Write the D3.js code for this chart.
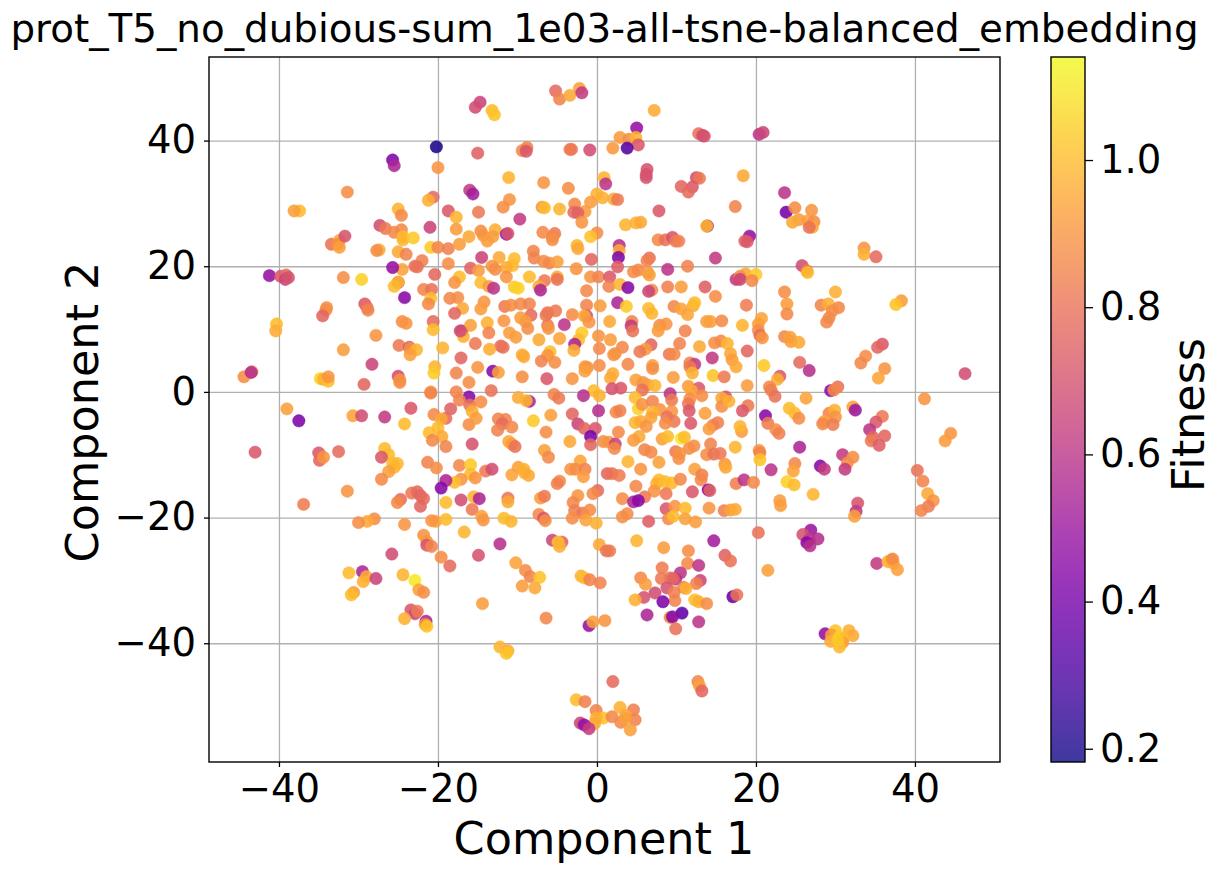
<!DOCTYPE html>
<html>

<head>
  <meta charset="UTF-8">
  <title>t-SNE embedding</title>
  <script src="https://d3js.org/d3.v7.min.js"></script>
  <style>
    body {
      margin: 0;
      background: #fff;
    }

    text {
      font-family: "DejaVu Sans", sans-serif;
      fill: #000;
    }

    .axis path {
      display: none;
    }

    .axis line {
      stroke: #000;
      stroke-width: 1.3;
    }

    .axis text {
      font-size: 38.6px;
    }

    .grid path {
      display: none;
    }

    .grid line {
      stroke: #b0b0b0;
      stroke-width: 1.3;
    }
  </style>
</head>

<body>
  <div id="chart"></div>
  <script>
    // values, one group per part of the plot (upper left first)
    var c1_a = [-37.4, -38.1, -31.4, -20.2, -25.7, -25.5, -20, -16, -15.6, -20.6,
      -21.2, -18.7, -17.7, -25, -24.6, -27.3, -26.6, -25.5, -24.6, -24.4,
      -24.4, -23.1, -21, -17.7, -16.1, -20.9, -20, -18.7, -17.3, -33.4,
      -32.4, -32.6, -32.4, -31.7, -27.4, -27.7, -25, -24, -22, -22.9,
      -22.6, -24.5, -25.7, -18.7, -15.9, -20.4, -17.3, -17.9, -41.2, -39.8,
      -39.1, -39.2, -38.8, -31.9, -29.6, -25, -25.5, -25, -21.8, -20.8];
    var c2_a = [28.8, 28.8, 31.8, 39, 36.9, 36, 35.7, 32.1, 31.5, 31,
      30.5, 28.8, 27.8, 29.1, 28.1, 26.5, 26, 25.4, 25.8, 24.7,
      24.2, 24.5, 26.2, 25.9, 24.7, 23, 23, 22.8, 23.5, 23.5,
      24.1, 23.5, 23, 24.8, 22.6, 22.5, 22.3, 21.9, 20.9, 20,
      19.9, 19.5, 19.8, 20.4, 19.7, 18.7, 18.3, 17.4, 18.5, 18.4,
      18.6, 17.9, 18.2, 18.2, 17.9, 17.4, 16.8, 17.5, 16.3, 16.3];
    var fit_a = [1, .93, .88, .2, .42, .55, .9, .62, .52, .78,
      .97, .72, .98, .98, .87, .68, .82, .86, .87, 1,
      .98, 1.03, .65, .92, .95, 1.03, .86, .84, .92, .8,
      .95, .88, .93, .7, .97, .88, .95, .85, .84, .8,
      .8, .94, .48, .88, .75, .77, 1, .9, .48, .72,
      .78, .65, .7, .88, 1.05, .7, 1, .98, .85, .8];

    var c1_b = [-14.7, -15.3, -13.2, -12.9, -5.2, -4.7, -3.4, -2.2, -1.9, 7.2,
      5, 2.9, 4, 4.9, 5.2, 3.8, 2, 12.8, 13.3, 13.5,
      -15, -9.4, -8.8, -8.9, -3.4, -3.2, -.9, -11.1, -6.7, -3.6,
      .9, 1.1, 6.3, 6.2, 6.2, 12.5, 12.9, 10.6, 12, 11.5,
      -11, -11.8, -6.9, -6.6, -4.7, -9.7, -14.9, 0, .7, 2.1,
      2.6, -.8, -2.8, -1.5, -2.9, -2.4, -1.9, 7.8, 17.4, 3.6,
      4.9, 5.5, 13.9, 13.8, -14.6, -12.8, -14.3, -13.1, -13.8, -11.4,
      -11.2, -6.8, -5.3, -5.6, -5.6, 0, -.8, -2.5, -2.4, -8,
      -7.9, -12.3, -14.5, -10.4, -10.6, -11.4, -13.2, -12.8, -11.4, -14.9,
      -6.7, -6, -5, -.7, -2.6, 2.8, 2.8, 2.7, 2.6, 7.7,
      8.6, 9.5, 9.9, 10.3, 6.6, 6.3, 14.9, 11.4, 8.9, 4.6,
      5.2, 6.4, 6.6, -.8, .2, 1.6, -8.5, -5, -5, -6.6,
      -7.3, -7.1, -14.6, -13.6, -13, -10.4, -9.9, -1.3, 1.5, 2.9,
      3.9, 6.9, 8.9, 10.6, 13.6, 17.5, 6.5];
    var c2_b = [46.1, 45.3, 44.8, 44.1, 47.9, 46.6, 47.2, 48.3, 47.6, 44.8,
      42, 40.5, 40.2, 40.5, 39.3, 38.8, 38.8, 41.1, 40.8, 40.7,
      38, 38.4, 38.9, 38.3, 38.6, 38.6, 38.5, 34.1, 33.3, 32.4,
      34.1, 33.1, 35.4, 34.6, 34.1, 34.1, 34, 32.7, 32.6, 31.8,
      30.6, 29.4, 29.4, 29.3, 29.1, 27.5, 28.6, 31.5, 30.9, 30.7,
      30.6, 30.2, 29.9, 28.7, 28.6, 28.5, 27, 28.8, 29.5, 26.6,
      26.9, 27, 26.4, 26.4, 25.6, 25.8, 24.9, 24.7, 24, 25.1,
      25.2, 25.4, 25.2, 24.7, 24.2, 25.3, 24.7, 23.3, 22.8, 22.4,
      21.3, 21.4, 21.4, 21.2, 20.1, 19.8, 20, 19.5, 18.3, 19.3,
      20.8, 20.5, 20.7, 21.1, 19.6, 23.3, 22.5, 21.4, 19.9, 24.2,
      24.2, 24.6, 24, 24, 21.3, 20.9, 21.3, 20, 19.5, 19.1,
      19.4, 19, 18.6, 18.3, 18.3, 18.3, 18.3, 18.3, 17.9, 17.7,
      16.8, 16.2, 17.4, 16.8, 16.5, 16.7, 16.5, 16.1, 16.8, 17.1,
      16.6, 16.2, 16.7, 16.7, 16.7, 17.9, 16];
    var fit_b = [.65, .68, 1, 1.02, .78, .85, .95, .93, .62, .96,
      .48, .92, .88, .98, .72, .32, .91, .8, .68, .7,
      .75, .86, .85, .72, .84, .82, .68, .98, .9, .88,
      .98, .6, .7, .7, .7, .68, .82, .76, .72, .78,
      .9, .88, .9, 1, .98, .62, .82, .97, .97, .95,
      .82, .92, .87, .92, .78, .75, .9, .72, .85, .98,
      .97, .95, .55, .98, .88, .97, .9, .92, .92, .5,
      .7, .87, .82, .86, .88, .88, 1.02, .98, .95, .85,
      .85, .95, .65, 1, 1, .96, .9, .88, .9, .92,
      .88, .86, .93, .76, .9, .58, .96, .42, .74, .87,
      .8, .7, .82, .84, .8, .84, .62, .85, .6, .88,
      .87, .92, .93, .9, .85, .72, 1, .96, .8, .82,
      .95, .55, 1, .92, .6, 1.03, 1.05, .87, .85, .98,
      .45, .87, .84, .92, .74, .62, .65];

    var c1_c = [20.4, 20.9, 18.4, 23.6, 23.8, 24.9, 27, 25.4, 24.6, 26.5,
      27.3, 27.1, 26.7, 19.2, 18.6, 18.9, 33.6, 33.6, 35.1, 25.8,
      26.4, 26.5, 18.7, 20, 18, 18, 19.5, 23.6, 30];
    var c2_c = [41, 41.3, 34.4, 31.7, 28.6, 29.3, 28.9, 27.4, 27, 27.2,
      27.1, 26.2, 26.2, 24.8, 24, 23.9, 22.9, 21.9, 21.5, 20.1,
      19.3, 19, 18.8, 18.7, 18.4, 17.9, 17.7, 15.9, 15.9];
    var fit_c = [.6, .65, .95, .6, .4, .88, .9, .92, .95, .93,
      .88, .95, .8, .48, .75, .72, .9, .97, .78, .68,
      .82, 1, .95, 1.03, .88, .65, .87, .88, .97];

    var c1_d = [-40.3, -40.4, -34, -34.1, -34.5, -29.2, -28.9, -28.8, -24.2, -20.9,
      -21.2, -18.5, -17.5, -16.9, -17.9, -24.5, -24, -20.6, -20.6, -27.8,
      -31.9, -24.9, -23.6, -23.5, -22.7, -23.5, -19.4, -17.1, -17, -16.8,
      -15.9, -17.2, -28.3, -25, -24.8, -24.8, -20.4, -20.5, -17.7, -16.1,
      -44.4, -43.4, -43.5, -34.8, -34.4, -33.8, -33.8, -29.3, -20.9, -20.9,
      -17.7, -16.1, -17.3, -16, -39, -37.5, -30.7, -29.6, -26.7, -23.4,
      -24.2, -20.5, -18.4, -19, -19.6, -20, -21.1, -19.5, -20.7, -19,
      -16.1, -15.7, -15.7, -43, -35, -34.9, -34.4, -32.5, -26.7, -26.2,
      -27.1, -25.7, -25.1, -25.5, -26.2, -27.1, -21.3, -20.2, -17.3, -15.9,
      -15.9, -17.1, -17.9, -19, -19.6, -31.4, -36.9, -23.3, -22.6, -22.2,
      -21.8, -24.7, -25.1, -22.2, -19, -17.1, -15.7, -15.5, -28, -28.9,
      -30, -24.2, -20.3, -20.8, -19];
    var c2_d = [10.8, 9.7, 13.4, 13, 12.1, 14, 13.4, 13, 15, 14.9,
      14, 14.9, 15, 13.3, 12.5, 11.2, 10.9, 11.2, 9.9, 9,
      6.7, 7.4, 7.1, 6.9, 6.7, 5.9, 7, 5.4, 9.7, 8.8,
      10.6, 9.7, 4.4, 2.5, 1.9, 1.5, 4, 3, 3, 1.5,
      2.4, 3.2, 3.1, 2.1, 2, 1.7, 2.4, 1.2, 0, -.2,
      0, -.8, -1.3, -2.1, -2.7, -4.6, -3.8, -3.8, -4, -2.6,
      -5.1, -3.6, -2.7, -4.2, -4.3, -5.7, -6.5, -7.1, -7.7, -8.7,
      -5.2, -3.1, -8.3, -9.6, -9.7, -10.9, -10.4, -9.5, -9, -10,
      -10.4, -11.3, -11.4, -12, -12.7, -13.9, -11.2, -12.1, -11.7, -11.6,
      -13.1, -13.9, -14.4, -14.1, -15.3, -15.8, -17.9, -16.1, -15.9, -16.5,
      -17, -17.1, -17.6, -18.2, -17.6, -17.2, -18.7, -16.7, -20.2, -20.6,
      -20.8, -21.1, -20.6, -20.5, -20.3];
    var fit_d = [1, .96, .88, .88, .76, .72, .8, .85, .45, 1,
      .87, .86, .88, .95, .76, .88, .9, .78, 1, .9,
      .92, .82, .72, .88, .98, .93, .98, .76, .6, .97,
      .93, .68, .65, .68, .9, .88, .98, 1.03, .85, .88,
      .88, .85, .58, 1.05, .97, 1, .9, .76, .92, .85,
      .85, .45, .85, .8, .93, .42, .94, .68, .62, .72,
      1, .87, .75, .78, .95, 1, 1, .95, .87, .85,
      .88, .97, .7, .72, .72, .76, .9, .78, 1, 1,
      .72, 1, .99, .98, .93, .87, .85, .88, .86, 1.03,
      1, .9, 1, .55, .45, .9, .83, .82, .78, .76,
      .78, .78, .87, .76, 1, .68, .82, .98, .88, .95,
      .88, .9, .93, .9, 1];

    var c1_e = [-14.2, -14.6, -11.6, -10.8, -9.6, -8.5, -8.3, -9.6, -9, -8.7,
      -11.7, -13.8, -13.6, -11, -10.2, -15.3, -12.1, -11.8, -13.5, -7.3,
      -6.2, -5.2, -6.4, -6.2, -6.1, -4.1, -4.7, -3.1, -1.3, .4,
      -1.3, -1.6, -1, 1.6, 2.6, 3.7, 6.5, 6.9, 9.7, 10.6,
      11.4, 12.1, 12.3, 14.9, 13.8, 14.3, 15.7, 4.4, 4.3, 4.5,
      7.9, 8.7, 7.7, 11.1, -1.9, -2.3, -2.8, -2.9, .2, 1.7,
      .3, 3.2, 6.8, 6.1, 5.4, 2.3, 2.1, 9.1, 9.7, 10.4,
      12.9, 14.8, 15.6, 16.4, 16.8, 17, 17.5, 14.5, -5.9, -6.2,
      -7, -5.3, -9.4, -9.2, -15, -13.1, -12.4, -9.4, -6.3, -3.1,
      -1.5, -1.2, -1.5, .3, 3.9, 2, 1.7, 7, 7, 11.7,
      12.3, 11.7, 12, 14.6, 16, 9.6, 4.9, 5.8, 6.4, 7.3,
      1.9, 3, 5.7, 11.5, 12.8, 11.9, -13.3, 9.2, 13.2, -.4,
      .3, -1.7, -5.4, -4.8, -9.9, -8.5, -8.9, -14.6, 4.8, 5.2,
      5.7, 7, 9.4, 11.7, 11.5, 11.6, 16.2, 15.7, 15.7, 16.6,
      13.6, 7.9, 7, 6.8, 9.4, 8.8, 9.7, 8.6, 11.8, 4.8,
      5.5, 6.2, 14.6, 15.2, 14.1, .2, -3.1, 2.4, 2.9, -5.8,
      -8, -12.4, -11.5, -11.9, -12.5, -10.7, -15.2, -6.4, -2.4, -1.6,
      -.2, -.8, -.8, 2.7, -3.4, .8, 1.5, 2.3, 2.2, 5.3,
      4.6, 8.2, 8.9, 10.6, 11, -11.1, -10.7, -10.3, 14.3, 17.4,
      6, 6.8, 9.9, 10.4, 10.3, 11.6, 12.2, 13.8, 14.7, 15.5,
      -6.6, -6.1, -14, -13.2, -15.3, -9.9, -9.2, -9.1, -8.6, -10.7,
      -2.1, -3.3, -2.7, -1.5, -1.7, 3.9, 5.5, 7.8, 1.3, 1.9,
      2.8, 12.3, 13.2, 13.1, 16.1, 16.2, -4.7, -5, 7.8, 7.5,
      8.6, 9.4, 10.5, 7.2, 8.7, 4.9, 14, 14.2, 12, 17.5,
      .1, -.5, -2.4, -14.8, -11.2, -11.2, -7.1, -6.6, -3, 3.2,
      6, 4.6, 5.2, 8.7, 9.8, 11.1, 14.1, 16, 16.8, 17.4,
      -2.8, -1.8, -.9, -3.1, -1.4, -.1, -7.3, -6.7, -6.5, -14.5,
      -14.3, -11.7, -10.8, 3.8, 3.2, 6.5, 9, 9.6, 11.1, 12.4];
    var c2_e = [14.3, 13.2, 13.6, 13.8, 14, 14, 12.2, 11.8, 11.2, 10.1,
      11.3, 11, 9.4, 9.4, 8.7, 7.7, 7.3, 7.1, 6.8, 8.3,
      12.6, 12.9, 12.2, 10.6, 10.1, 10.7, 8.5, 12.3, 13.8, 13.7,
      12.1, 12.1, 11.1, 11.2, 14.2, 13.6, 13.3, 12.5, 13.6, 13.2,
      12.3, 13.7, 14.2, 15.2, 11.2, 11.2, 11.3, 11.2, 10.5, 9.7,
      10.6, 10.8, 9.7, 9.7, 9.4, 8.3, 7.6, 6.6, 8.9, 8.3,
      6.9, 7.1, 7.5, 6.8, 6.4, 6.1, 5.9, 6, 6, 7.7,
      7.2, 7.8, 8.1, 7.7, 6.1, 5.1, 4, 5.4, 6.4, 5.8,
      4.9, 4.7, 5.9, 5.6, 3.9, 3.3, 3.1, 2.4, 2.1, 2.1,
      4, 3.9, 3.3, 4.2, 4.4, 2.9, 2.2, 4.2, 3.7, 4.6,
      4.4, 4, 3, 2.6, 2.4, 2.3, 1.9, 1.5, 1.1, 1,
      .5, .6, .3, .9, .6, .2, .2, -.3, -.6, .2,
      -.6, -.6, -.4, -1, -.9, -1.5, -1.4, -1.6, -.9, -2.7,
      -2, -1.5, -1.3, -1.1, -1.9, -3, -.8, -1, -2.3, -1.5,
      -3.4, -2.8, -3.2, -4.1, -3.1, -4, -4.7, -5, -5, -4.9,
      -4.7, -5.5, -5.3, -4.9, -5.9, -3, -3.5, -3.2, -3, -3.7,
      -4.6, -4.3, -4.4, -5.1, -6.1, -5.6, -4.2, -6.4, -5.1, -5.8,
      -5.8, -7.1, -8.4, -6.4, -7.9, -7.9, -8, -8.3, -9, -7.1,
      -7.7, -7.5, -7.1, -7.4, -7.2, -7.9, -8.3, -8.7, -8.3, -8.8,
      -9.2, -9.6, -9.5, -9.8, -10.6, -9, -8.6, -10, -9.9, -9.8,
      -9.3, -10.4, -12.6, -12.3, -13.7, -12, -12.3, -12.9, -13.3, -13.2,
      -11, -12.3, -12.3, -12.3, -13.5, -11.1, -12.3, -11.2, -13, -13,
      -13.3, -12.3, -13.2, -14, -11.5, -12, -14.2, -14.6, -14, -14.6,
      -14.3, -14.5, -13.9, -15.8, -16.2, -15, -15.6, -15.7, -15.9, -14.6,
      -15.7, -16.2, -16.5, -17, -16.9, -17.5, -16.9, -16.6, -17.6, -17,
      -16.7, -17.5, -17.3, -18.6, -18.2, -18.5, -18.5, -18.9, -18.8, -18.7,
      -18.9, -19.3, -18.8, -20.1, -20.4, -20.9, -19.5, -20.1, -20.5, -19.8,
      -20.4, -20.1, -20.6, -19.4, -19.9, -20.6, -20.2, -19.8, -20.2, -20.7];
    var fit_e = [.9, .92, .82, .88, .87, .85, .78, .92, .92, .88,
      .9, .97, .85, .92, .92, .82, .78, .8, .96, .95,
      .8, .82, .82, .82, .9, .6, .94, .88, .85, .92,
      .68, .95, .9, .95, .55, 1.03, 1, .98, .86, .94,
      .94, .95, 1, .88, .92, .93, .87, .85, .62, .8,
      .88, .9, .92, .85, 1.03, 1, .55, .96, .9, .92,
      .87, .87, .76, .92, .82, .88, .9, .82, .87, .85,
      .95, .88, .87, .98, .95, .92, .95, .62, 1, .9,
      .85, .88, .96, .95, .9, .45, .93, .88, .72, .9,
      .9, .9, .93, .88, .86, .96, .95, .92, .88, .85,
      .62, .82, .97, 1.02, .82, .92, .93, .9, .92, .98,
      .7, .72, .8, .92, .72, .95, .8, .6, .88, 1,
      .97, .58, .85, .82, .95, .55, .98, .88, 1, 1.05,
      .9, .85, .82, .88, .82, .72, .7, .95, .88, .97,
      .93, .9, .98, .94, .9, .8, .82, .88, .72, .98,
      .95, .9, .85, .84, .92, .58, .76, .87, .84, .93,
      1.03, .85, .85, .78, .85, .87, .92, .88, .65, .76,
      .72, .4, .76, .87, .95, .88, .9, .65, .87, .95,
      .92, .93, 1, 1.1, 1, .95, .92, .8, .85, .98,
      .85, .87, .82, .9, .88, .88, .88, .88, .8, .82,
      .93, .87, .82, .68, .9, .93, .97, .97, .95, .94,
      .94, .9, .88, .85, .92, .98, .9, .93, .76, .8,
      .83, .93, .84, .86, .9, .95, .87, .84, 1, .97,
      1, 1, .87, .9, .82, .86, .42, .75, .72, .84,
      .78, .87, .9, .55, .8, .95, .92, .82, .86, .88,
      .82, .55, .45, .72, .9, 1, .9, .84, .94, .95,
      .84, .82, .88, .88, .94, .97, .87, .7, .88, .93,
      .9, 1, .98, .88, .88, .74, .87, 1, .93, .92];

    var c1_f = [18.8, 23.9, 23.9, 20.7, 18.3, 20.3, 20.3, 20.5, 20.8, 23.6,
      24.3, 24.4, 25.4, 28.2, 29.1, 30.4, 29.6, 29.2, 28.9, 38.3,
      37.6, 35.9, 35.3, 33.8, 33.2, 36.2, 35.4, 18.9, 25.5, 26.7,
      21, 23, 22.7, 18.9, 21.7, 21.9, 22.4, 46.3, 29.4, 30.3,
      29.8, 26.3, 41.2, 19, 18.3, 21.2, 21.5, 24.2, 24.9, 25.4,
      22.5, 22.9, 18.2, 18, 29.2, 29.9, 30, 28.6, 28.4, 29.7,
      32.2, 32.5, 35.9, 35.1, 34.3, 36.2, 34.7, 34.5, 35.5, 44.5,
      43.8, 25.5, 20.4, 20.5, 20.5, 24.9, 24.7, 21.9, 28.1, 28.6,
      30.9, 32.2, 31.5, 31.2, 40.3, 41, 41.6, 42.3, 41.7, 40.8,
      23.9, 24.8, 27.2, 18.5, 19.7, 23, 23.1, 32.8, 32.6, 32.4];
    var c2_f = [13.8, 14, 12.4, 11.7, 10.6, 10.8, 9.8, 9, 8.6, 8.8,
      8.7, 8, 7.9, 13.8, 14, 13.4, 12.9, 11.8, 11.1, 14.5,
      13.9, 7.6, 7.1, 5.7, 4.6, 3.7, 2.2, 6.5, 4.7, 3.4,
      4.2, 2.5, 2, 1, .8, .3, -.7, 2.9, .2, .8,
      .3, -1, -1.1, -2.2, -3, -3.8, -5, -2.6, -3.4, -4.2,
      -6, -6.6, -6.3, -5.5, -3.4, -2.9, -4, -4.7, -5.1, -5.2,
      -2.4, -2.9, -3.9, -4.8, -6, -7, -7.2, -7.8, -8.5, -6.6,
      -7.8, -8.8, -9.3, -9.7, -10.8, -11.4, -12.6, -12.4, -11.8, -12.3,
      -10, -10.4, -11.3, -12.3, -12.5, -14.2, -16.2, -17.3, -18.2, -18.9,
      -14.3, -14.8, -16.3, -14, -14.4, -17.3, -18.1, -17.7, -19, -19.8];
    var fit_f = [.83, .92, .87, .94, .98, .93, .88, .78, .9, .86,
      .93, .92, .95, .85, .97, .86, .88, .87, .86, .92,
      1.02, .72, .76, .88, .86, .9, .94, .76, .78, .58,
      1.03, .72, .97, .92, .86, .84, .8, .68, .45, .8,
      .86, .94, .9, .82, .72, .45, .83, 1, 1, .88,
      .88, .84, .92, .98, .85, .97, .9, .94, .86, .83,
      .93, .5, .82, .72, .6, .76, .76, .82, .74, .9,
      .92, .55, .9, .85, 1.02, .86, .94, .6, .45, .62,
      .62, .88, .88, .62, .8, .85, .95, .9, .83, .85,
      1.05, 1, .98, .6, .87, .92, .92, .7, .62, .93];

    var c1_g = [-21.8, -21.4, -21.4, -20.8, -25.8, -19.6, -18.5, -16.7, -31.2, -29.5,
      -29, -29.4, -27.8, -24.4, -22.9, -22.4, -21.8, -30.6, -30.9, -23.4,
      -22.9, -22.6, -24.2, -21.5, -21.6, -21.4];
    var c2_g = [-22.8, -23.8, -24.4, -24.6, -25.8, -26.3, -27.7, -22.3, -28.8, -28.6,
      -29.4, -30.2, -29.7, -29.1, -30, -31.5, -31.9, -31.9, -32.3, -34.7,
      -35.3, -34.9, -36.1, -36.5, -37, -37.3];
    var fit_g = [.9, .9, .7, .85, .68, .88, .78, .98, 1, .55,
      .95, .97, .65, .98, 1.1, .93, .88, .92, 1, .72,
      .65, .82, .97, .55, .9, 1.02];

    var c1_h = [-12.2, -14.9, -5.6, -4.4, -4.9, -4.7, .3, 1.2, 1.6, 5,
      8.4, 11.5, 14.7, 16.1, 16.8, 11.4, 12.8, 8.2, -10.2, -9,
      -8.4, -7.2, -9.4, -7.8, -2, -1.6, -.9, .4, 10.5, 9.9,
      9.2, 8.1, 9.6, 8.8, 13, 12.5, 10.9, 11.2, 5.5, 6.1,
      7.3, 5.9, 4.8, 9.7, 9.8, 8.3, 12.3, 12.8, 13.8, 17.1,
      17.6, -14.4, -6.4, -1, -.5, 1, 6.3, 10.7, 9.2, 9.5,
      12.8, 9.9, -12.2, -11.2, -11.4, 2, 12.7, 12.9, 13.2, -2.6,
      -1.5, -.1, 2.9, 4.6, 3.6, .8, -.1, 1.9, 4.8, 3,
      3.6, -.3, -2.1, -1.6, -1, 4.2];
    var c2_h = [-24.2, -26, -23.6, -23.9, -23.9, -24.6, -24.3, -25.3, -25.3, -23.7,
      -24.8, -25.3, -23.7, -26, -26.9, -27.3, -27.6, -28, -27.2, -28.4,
      -29.4, -29.5, -30.9, -31.2, -29.3, -29.6, -29.9, -30.4, -28.8, -29.8,
      -29.6, -29.7, -29.7, -31.2, -30, -30.5, -31.1, -31.3, -29.6, -30.6,
      -32, -32.7, -33.1, -31.9, -33.2, -33.4, -33.1, -33.4, -33.7, -32.6,
      -32.3, -33.7, -36, -37.2, -36.6, -36.4, -35.5, -35.2, -35.9, -35.8,
      -36.6, -37.7, -40.6, -41.2, -41.6, -46.1, -46.1, -46.8, -47.6, -49,
      -49.3, -50.7, -50.2, -50.6, -51.5, -51.9, -51.9, -51.7, -52.2, -52.6,
      -52, -52.8, -52.7, -53, -53.6, -53.8];
    var fit_h = [.58, .7, .66, .75, 1.02, .97, .95, .8, .82, .98,
      .92, .88, .52, .75, .8, .87, .6, .83, .94, .88,
      .85, 1.02, .92, .95, .97, 1, .85, .85, .6, .58,
      .8, .82, .76, .7, .66, .84, .85, .97, .87, .92,
      .68, .7, .97, .84, .85, .42, 1, .97, .88, .38,
      .8, .92, .86, .48, .93, .9, .55, .35, .87, .45,
      .6, .8, .98, .96, 1.02, .78, .86, .93, .76, 1,
      .84, .85, .97, .84, .95, 1.02, .97, .86, .85, .87,
      .93, .95, .65, .48, .62, .93];

    var c1_i = [20.3, 26.9, 25.9, 26.7, 27.8, 26.4, 26.8, 21.5, 35.2, 36.6,
      37, 37.3, 37.2, 37.8, 28.7, 31.7, 30, 32.2, 29.5, 29.4,
      30.5, 31, 30.9, 30.5, 30.3];
    var c2_i = [-22.4, -22, -22.7, -23.5, -23.4, -24, -24.5, -28.4, -27.3, -27,
      -26.8, -27.3, -26.6, -28.3, -38.5, -38, -38, -38.8, -38.7, -39.7,
      -39, -39.3, -39.9, -40.6, -39.5];
    var fit_i = [.8, .5, .7, .62, .58, .45, .58, .93, .62, .97,
      .97, .95, .87, .93, .48, .97, 1.02, .95, .92, .96,
      1.05, 1, .92, 1, 1.03];

    var comp1 = c1_a.concat(c1_b, c1_c, c1_d, c1_e, c1_f, c1_g, c1_h, c1_i);
    var comp2 = c2_a.concat(c2_b, c2_c, c2_d, c2_e, c2_f, c2_g, c2_h, c2_i);
    var fitness = fit_a.concat(fit_b, fit_c, fit_d, fit_e, fit_f, fit_g, fit_h, fit_i);

    var xTicks = [-40, -20, 0, 20, 40];
    var yTicks = [-40, -20, 0, 20, 40];
    var barTicks = [0.2, 0.4, 0.6, 0.8, 1.0];
    var fitMin = 0.182, fitMax = 1.14;

    var plotLeft = 209, plotRight = 1000, plotTop = 57, plotBottom = 762;
    var barLeft = 1051, barRight = 1085;

    var svg = d3.select("#chart").append("svg")
      .attr("width", 1218)
      .attr("height", 872)
      .style("display", "block");

    var xScale = d3.scaleLinear().domain([-48.8, 50.7]).range([plotLeft, plotRight]);
    var yScale = d3.scaleLinear().domain([-58.9, 53.3]).range([plotBottom, plotTop]);
    var colorNorm = d3.scaleLinear().domain([fitMin, fitMax]).range([0, 1]);
    var color = function (v) { return d3.interpolatePlasma(colorNorm(v)); };

    // Grid goes below the points
    svg.append("g")
      .attr("class", "grid")
      .attr("transform", "translate(0," + plotBottom + ")")
      .call(d3.axisBottom(xScale).tickValues(xTicks).tickSize(plotTop - plotBottom).tickFormat(""));
    svg.append("g")
      .attr("class", "grid")
      .attr("transform", "translate(" + plotLeft + ",0)")
      .call(d3.axisLeft(yScale).tickValues(yTicks).tickSize(plotLeft - plotRight).tickFormat(""));

    // lighter rim round a stronger middle, as the points look in the picture
    svg.append("g").selectAll("circle")
      .data(d3.zip(comp1, comp2, fitness))
      .enter().append("circle")
      .attr("cx", function (d) { return xScale(d[0]); })
      .attr("cy", function (d) { return yScale(d[1]); })
      .attr("r", 6.2)
      .attr("fill", function (d) { return color(d[2]); })
      .attr("fill-opacity", 0.88)
      .attr("stroke", function (d) { return color(d[2]); })
      .attr("stroke-width", 1)
      .attr("stroke-opacity", 0.45);

    svg.append("rect")
      .attr("x", plotLeft).attr("y", plotTop)
      .attr("width", plotRight - plotLeft).attr("height", plotBottom - plotTop)
      .attr("fill", "none")
      .attr("stroke", "#000")
      .attr("stroke-width", 1.4);

    var xAxis = svg.append("g")
      .attr("class", "axis")
      .attr("transform", "translate(0," + plotBottom + ")")
      .call(d3.axisBottom(xScale).tickValues(xTicks).tickSize(5).tickPadding(8).tickFormat(d3.format("d")));

    var yAxis = svg.append("g")
      .attr("class", "axis")
      .attr("transform", "translate(" + plotLeft + ",0)")
      .call(d3.axisLeft(yScale).tickValues(yTicks).tickSize(5).tickPadding(8).tickFormat(d3.format("d")));

    // Colorbar, semi transparent like the points
    var barScale = d3.scaleLinear().domain([fitMin, fitMax]).range([plotBottom, plotTop]);
    var gradient = svg.append("defs").append("linearGradient")
      .attr("id", "barGradient")
      .attr("x1", 0).attr("y1", 1)
      .attr("x2", 0).attr("y2", 0);
    gradient.selectAll("stop")
      .data(d3.range(0, 1.001, 0.05))
      .enter().append("stop")
      .attr("offset", function (d) { return d; })
      .attr("stop-color", function (d) { return d3.interpolatePlasma(d); })
      .attr("stop-opacity", 0.8);

    svg.append("rect")
      .attr("x", barLeft).attr("y", plotTop)
      .attr("width", barRight - barLeft).attr("height", plotBottom - plotTop)
      .attr("fill", "url(#barGradient)")
      .attr("stroke", "#000")
      .attr("stroke-width", 1.4);

    var barAxis = svg.append("g")
      .attr("class", "axis")
      .attr("transform", "translate(" + barRight + ",0)")
      .call(d3.axisRight(barScale).tickValues(barTicks).tickSize(8).tickPadding(7).tickFormat(d3.format(".1f")));

    svg.append("text")
      .attr("x", 604.5).attr("y", 42)
      .attr("text-anchor", "middle")
      .style("font-size", "38.8px")
      .text("prot_T5_no_dubious-sum_1e03-all-tsne-balanced_embedding");

    svg.append("text")
      .attr("x", 604).attr("y", 854)
      .attr("text-anchor", "middle")
      .style("font-size", "44.5px")
      .text("Component 1");

    svg.append("text")
      .attr("transform", "translate(98,412) rotate(-90)")
      .attr("text-anchor", "middle")
      .style("font-size", "44.5px")
      .text("Component 2");

    svg.append("text")
      .attr("transform", "translate(1204,415) rotate(-90)")
      .attr("text-anchor", "middle")
      .style("font-size", "44.5px")
      .text("Fitness");
  </script>
</body>

</html>
